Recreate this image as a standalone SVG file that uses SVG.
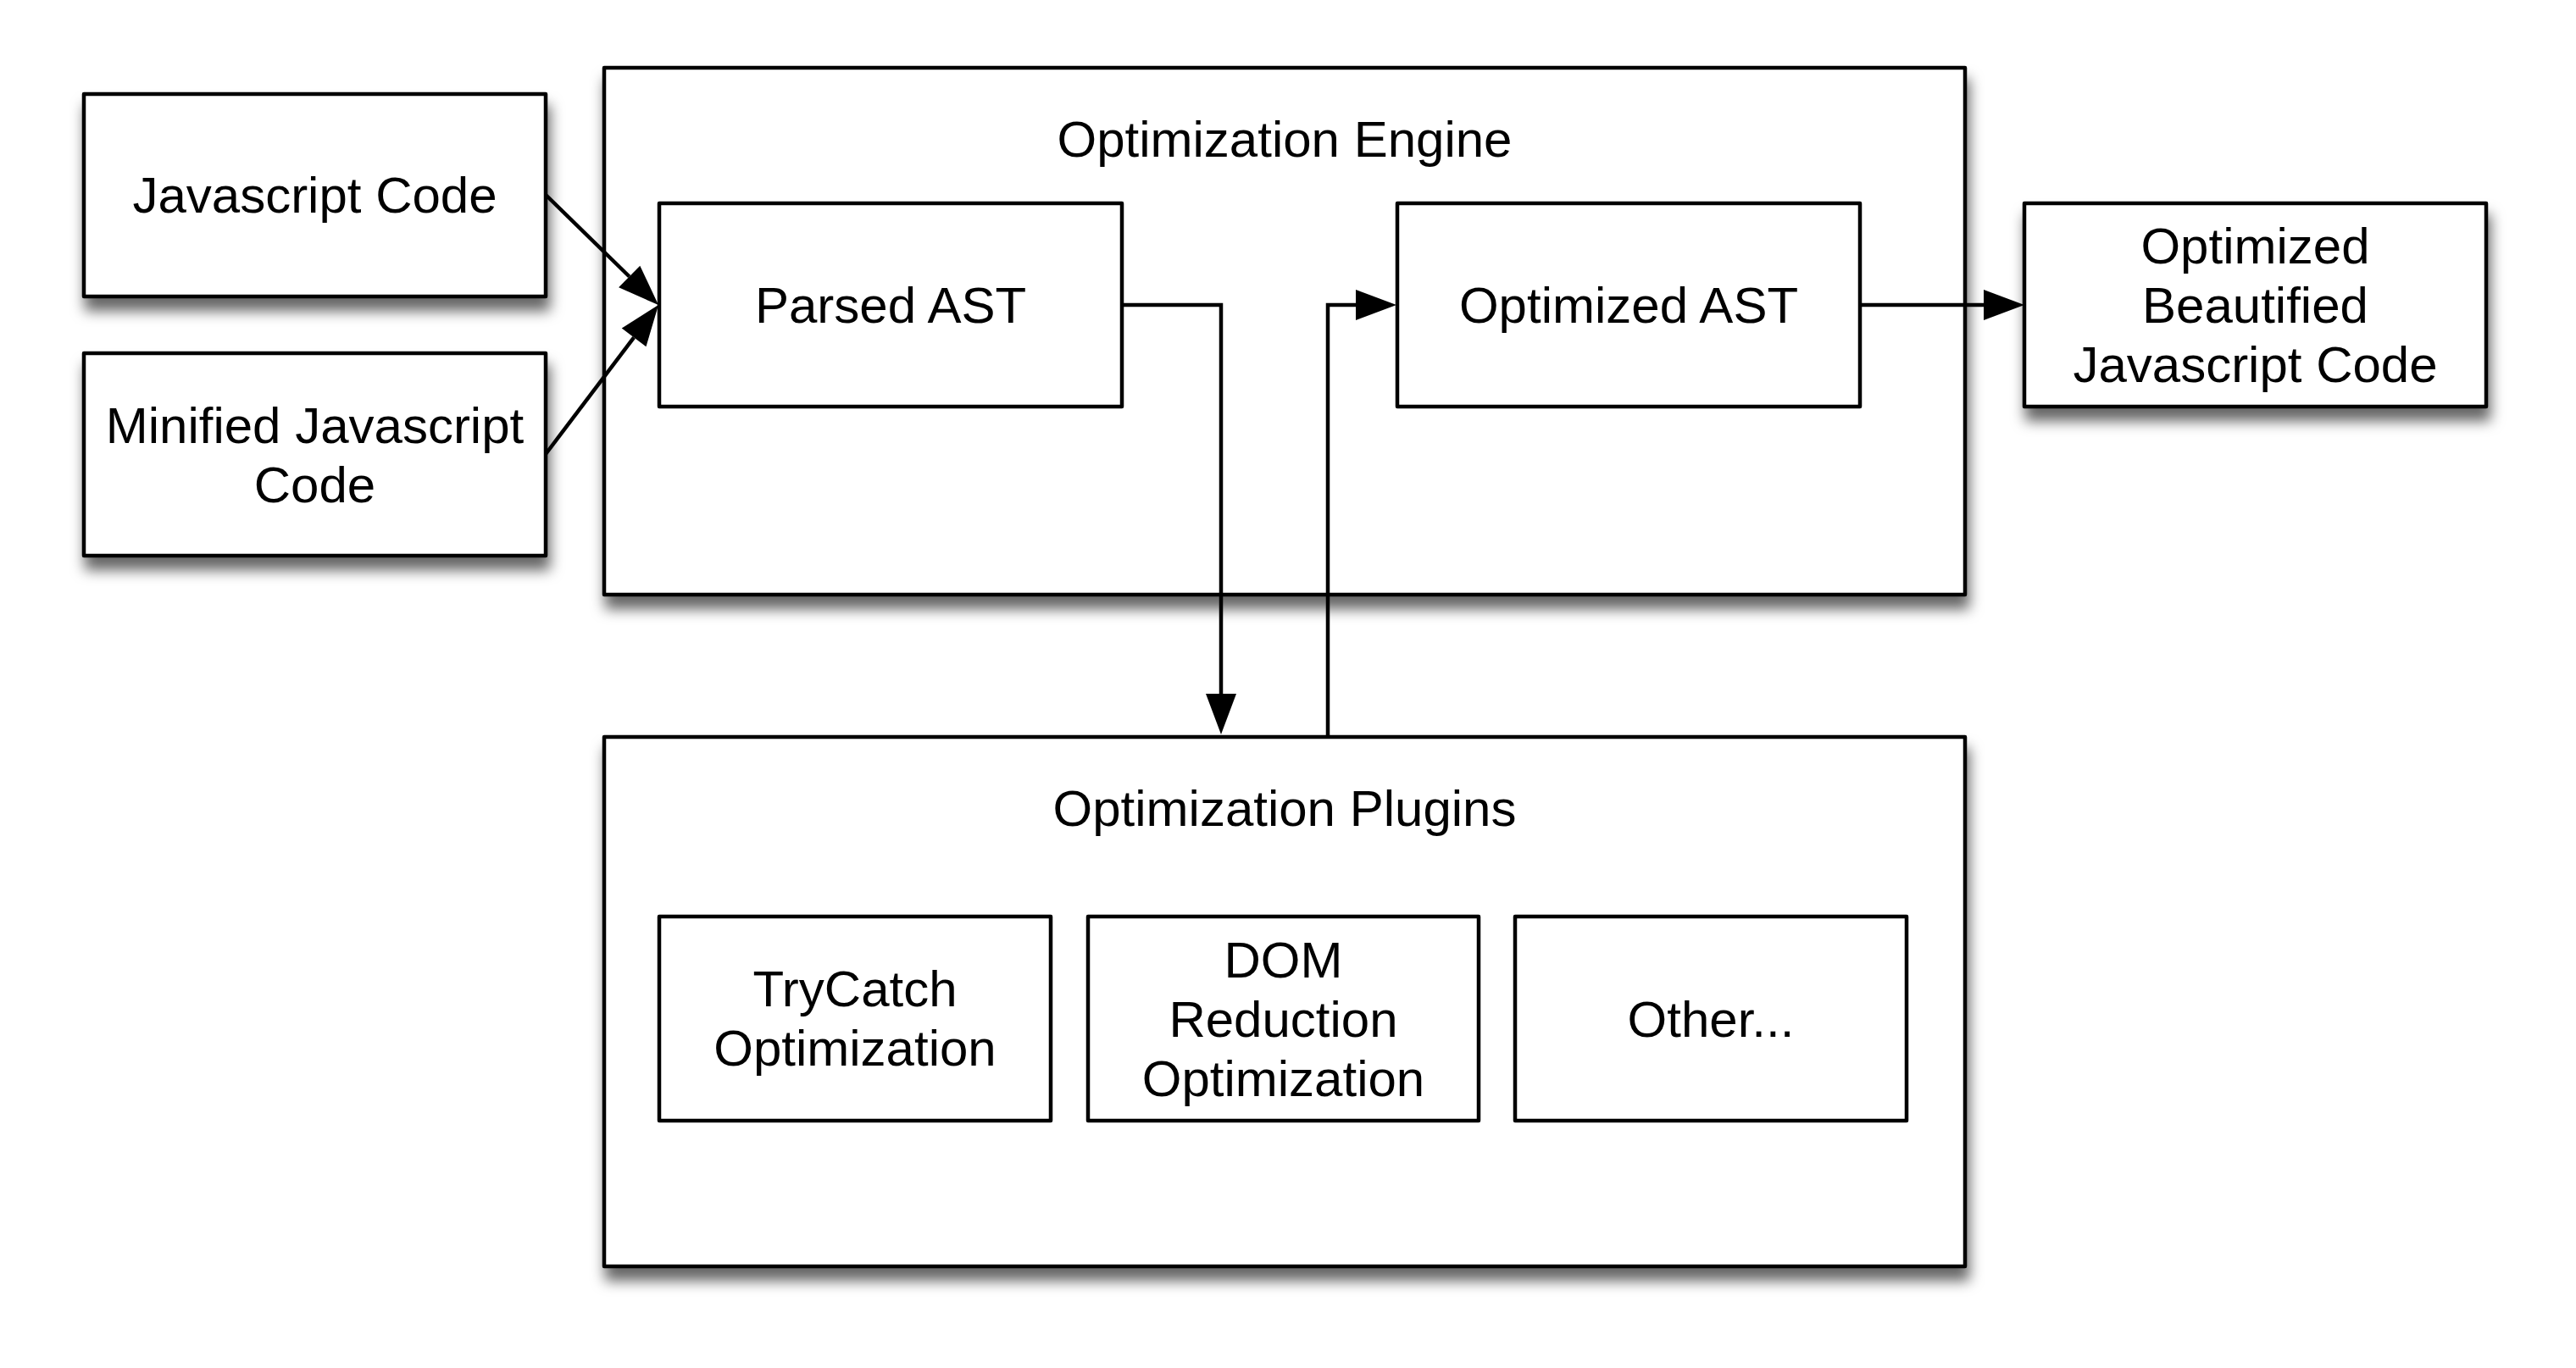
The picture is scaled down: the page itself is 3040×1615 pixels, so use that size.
<svg xmlns="http://www.w3.org/2000/svg" width="3040" height="1615" viewBox="0 0 3040 1615">
<style>
.box{fill:#fff;stroke:#000;stroke-width:4.5;stroke-linejoin:round}
.sh{filter:url(#shadow)}
.t{font-family:"Liberation Sans",Arial,Helvetica,sans-serif;font-size:60px;fill:#000;text-anchor:middle}
.c{fill:none;stroke:#000;stroke-width:4.5}
</style>
<defs>
<filter id="shadow" x="-10%" y="-10%" width="125%" height="140%">
<feDropShadow dx="3" dy="15" stdDeviation="8" flood-color="#000" flood-opacity="0.6"/>
</filter>
<marker id="arr" markerUnits="userSpaceOnUse" markerWidth="50" markerHeight="40" refX="0" refY="18" orient="auto" overflow="visible">
<path d="M0,0 L48,18 L0,36 Z" fill="#000"/>
</marker>
</defs>
<rect width="3040" height="1615" fill="#fff"/>

<g id="engine">
<rect class="box sh" x="713" y="80" width="1606" height="622"/>
<text class="t" x="1516" y="185">Optimization Engine</text>
</g>
<g id="plugins">
<rect class="box sh" x="713" y="870" width="1606" height="625"/>
<text class="t" x="1516" y="975">Optimization Plugins</text>
</g>
<g id="js-code">
<rect class="box sh" x="99" y="111" width="545" height="239"/>
<text class="t" x="371.5" y="251">Javascript Code</text>
</g>
<g id="minified">
<rect class="box sh" x="99" y="417" width="545" height="239"/>
<text class="t" x="371.5" y="523">Minified Javascript</text>
<text class="t" x="371.5" y="593">Code</text>
</g>
<g id="parsed-ast">
<rect class="box" x="778" y="240" width="546" height="240"/>
<text class="t" x="1051" y="381">Parsed AST</text>
</g>
<g id="optimized-ast">
<rect class="box" x="1649" y="240" width="546" height="240"/>
<text class="t" x="1922" y="381">Optimized AST</text>
</g>
<g id="beautified">
<rect class="box sh" x="2389" y="240" width="545" height="240"/>
<text class="t" x="2661.5" y="311">Optimized</text>
<text class="t" x="2661.5" y="381">Beautified</text>
<text class="t" x="2661.5" y="451">Javascript Code</text>
</g>
<g id="trycatch">
<rect class="box" x="778" y="1082" width="462" height="241"/>
<text class="t" x="1009" y="1188">TryCatch</text>
<text class="t" x="1009" y="1258">Optimization</text>
</g>
<g id="dom">
<rect class="box" x="1284" y="1082" width="461" height="241"/>
<text class="t" x="1514.5" y="1154">DOM</text>
<text class="t" x="1514.5" y="1224">Reduction</text>
<text class="t" x="1514.5" y="1294">Optimization</text>
</g>
<g id="other">
<rect class="box" x="1788" y="1082" width="462" height="241"/>
<text class="t" x="2019" y="1224">Other...</text>
</g>

<g id="connectors">
<path class="c" d="M644,230 L742.7,326.5" marker-end="url(#arr)"/>
<path class="c" d="M644,536 L748.1,398.3" marker-end="url(#arr)"/>
<path class="c" d="M1324,360 H1441 V819" marker-end="url(#arr)"/>
<path class="c" d="M1567,870 V360 H1600" marker-end="url(#arr)"/>
<path class="c" d="M2195,360 H2341" marker-end="url(#arr)"/>
</g>
</svg>
